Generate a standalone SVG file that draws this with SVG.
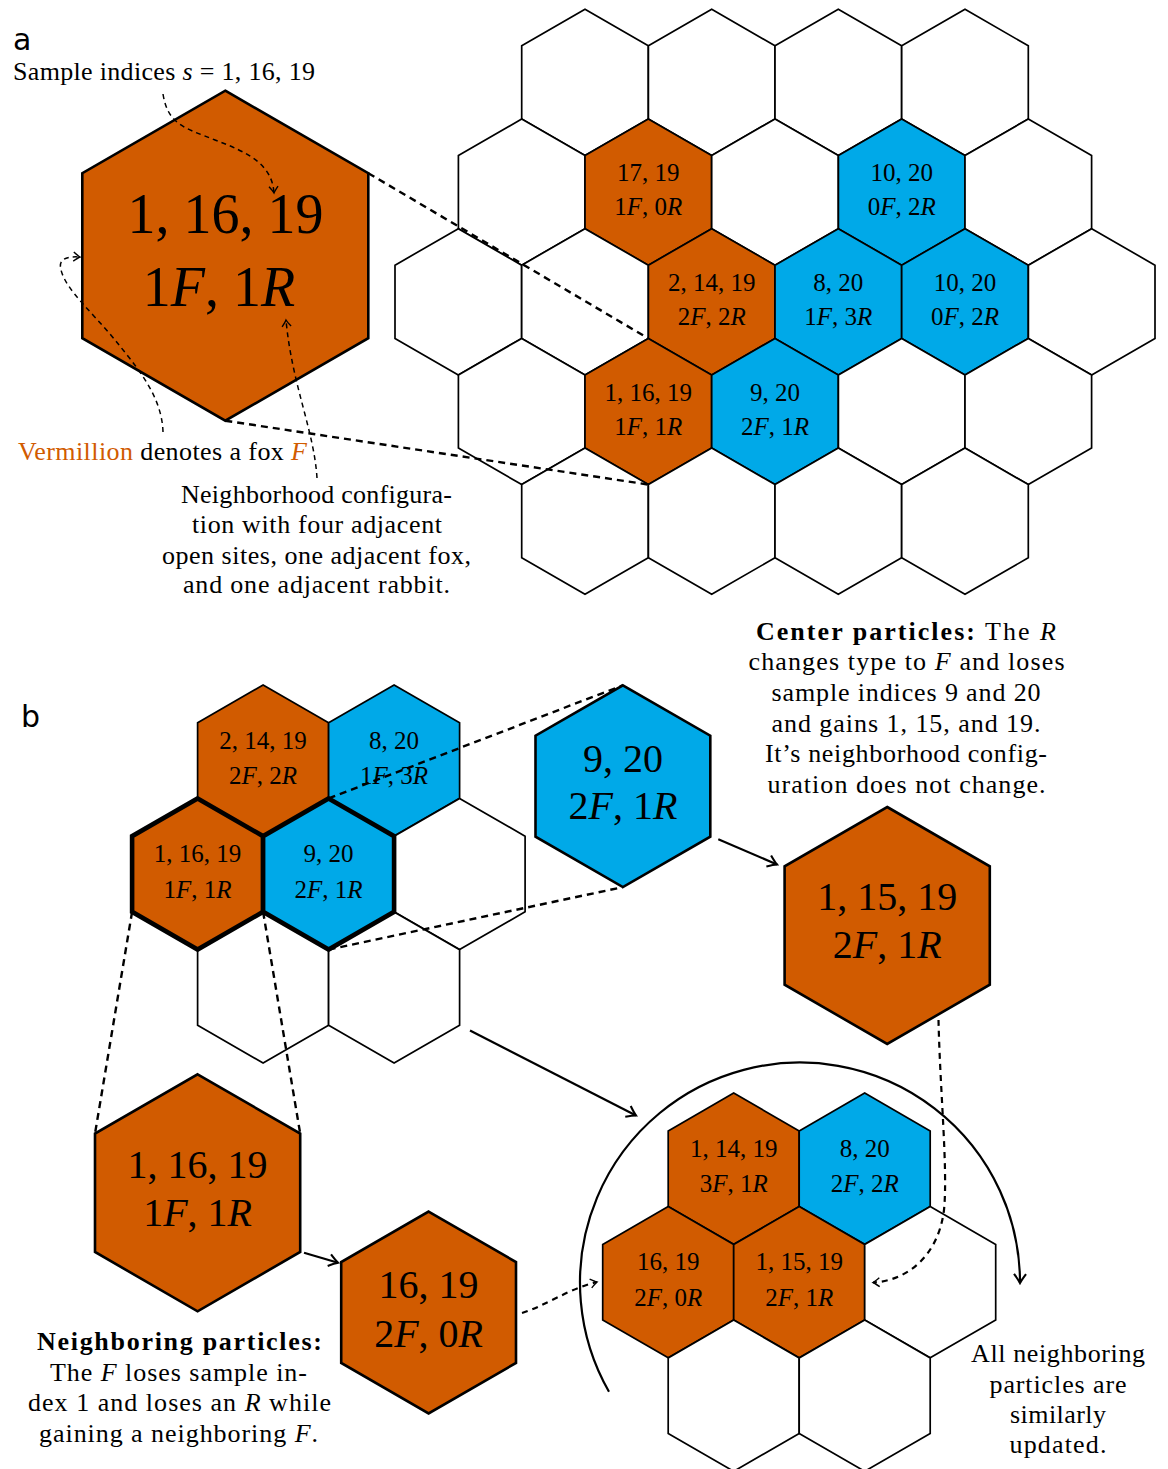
<svg xmlns="http://www.w3.org/2000/svg" width="1168" height="1469" viewBox="0 0 1168 1469">
<style>
.hs{stroke:#000;stroke-width:1.7;stroke-linejoin:miter}
.hb{stroke:#000;stroke-width:2.6;stroke-linejoin:miter}
.hk{stroke:#000;stroke-width:4.6;stroke-linejoin:miter}
.or{fill:#D15B00}
.bl{fill:#00A9E8}
.wh{fill:#fff}
.t{font-family:"Liberation Serif","Times New Roman",serif;fill:#000}
.lb{font-size:25px;text-anchor:middle}
.lg{font-size:40px;text-anchor:middle}
.lx{font-size:56px;text-anchor:middle}
.p{font-size:26px}
.pc{font-size:26px;text-anchor:middle}
.i{font-style:italic}
.vo{fill:#D15B00}
.sf{font-family:"DejaVu Sans",sans-serif;font-size:30px;fill:#000}
.zl{fill:none;stroke:#000;stroke-width:2.4;stroke-dasharray:7 5}
.ann{fill:none;stroke:#000;stroke-width:1.5;stroke-dasharray:5 4}
.dc{fill:none;stroke:#000;stroke-width:2.2;stroke-dasharray:6 5}
.sol{fill:none;stroke:#000;stroke-width:2.2}
</style>
<defs>
<marker id="ah" viewBox="-9 -6 11 12" refX="0" refY="0" markerWidth="11" markerHeight="12" markerUnits="userSpaceOnUse" orient="auto">
<path d="M-6.5,-4.5 Q-2,-1 0,0 Q-2,1 -6.5,4.5" fill="none" stroke="#000" stroke-width="1.4"/>
</marker>
<marker id="ahL" viewBox="-12 -8 14 16" refX="0" refY="0" markerWidth="14" markerHeight="16" markerUnits="userSpaceOnUse" orient="auto">
<path d="M-9,-6 Q-3,-1.5 0,0 Q-3,1.5 -9,6" fill="none" stroke="#000" stroke-width="2.1"/>
</marker>
</defs>
<rect width="1168" height="1469" fill="#fff"/>

<text class="sf" x="13" y="50">a</text>
<text class="sf" x="21" y="727">b</text>

<!-- Part a grid -->
<g id="a-grid">
<g id="a-r0c1"><polygon class="hs wh" transform="translate(585,82.4)" points="0,-73.1 63.3,-36.6 63.3,36.6 0,73.1 -63.3,36.6 -63.3,-36.6"/></g>
<g id="a-r0c2"><polygon class="hs wh" transform="translate(711.7,82.4)" points="0,-73.1 63.3,-36.6 63.3,36.6 0,73.1 -63.3,36.6 -63.3,-36.6"/></g>
<g id="a-r0c3"><polygon class="hs wh" transform="translate(838.3,82.4)" points="0,-73.1 63.3,-36.6 63.3,36.6 0,73.1 -63.3,36.6 -63.3,-36.6"/></g>
<g id="a-r0c4"><polygon class="hs wh" transform="translate(965,82.4)" points="0,-73.1 63.3,-36.6 63.3,36.6 0,73.1 -63.3,36.6 -63.3,-36.6"/></g>

<g id="a-r1c0"><polygon class="hs wh" transform="translate(521.7,192.1)" points="0,-73.1 63.3,-36.6 63.3,36.6 0,73.1 -63.3,36.6 -63.3,-36.6"/></g>
<g id="a-17-19"><polygon class="hs or" transform="translate(648.3,192.1)" points="0,-73.1 63.3,-36.6 63.3,36.6 0,73.1 -63.3,36.6 -63.3,-36.6"/>
<text class="t lb" x="648.3" y="181">17, 19</text><text class="t lb" x="648.3" y="215">1<tspan class="i">F</tspan>, 0<tspan class="i">R</tspan></text></g>
<g id="a-r1c2"><polygon class="hs wh" transform="translate(775,192.1)" points="0,-73.1 63.3,-36.6 63.3,36.6 0,73.1 -63.3,36.6 -63.3,-36.6"/></g>
<g id="a-10-20-top"><polygon class="hs bl" transform="translate(901.7,192.1)" points="0,-73.1 63.3,-36.6 63.3,36.6 0,73.1 -63.3,36.6 -63.3,-36.6"/>
<text class="t lb" x="901.7" y="181">10, 20</text><text class="t lb" x="901.7" y="215">0<tspan class="i">F</tspan>, 2<tspan class="i">R</tspan></text></g>
<g id="a-r1c4"><polygon class="hs wh" transform="translate(1028.3,192.1)" points="0,-73.1 63.3,-36.6 63.3,36.6 0,73.1 -63.3,36.6 -63.3,-36.6"/></g>

<g id="a-r2c0"><polygon class="hs wh" transform="translate(458.3,301.8)" points="0,-73.1 63.3,-36.6 63.3,36.6 0,73.1 -63.3,36.6 -63.3,-36.6"/></g>
<g id="a-r2c1"><polygon class="hs wh" transform="translate(585,301.8)" points="0,-73.1 63.3,-36.6 63.3,36.6 0,73.1 -63.3,36.6 -63.3,-36.6"/></g>
<g id="a-2-14-19"><polygon class="hs or" transform="translate(711.7,301.8)" points="0,-73.1 63.3,-36.6 63.3,36.6 0,73.1 -63.3,36.6 -63.3,-36.6"/>
<text class="t lb" x="711.7" y="290.8">2, 14, 19</text><text class="t lb" x="711.7" y="324.8">2<tspan class="i">F</tspan>, 2<tspan class="i">R</tspan></text></g>
<g id="a-8-20"><polygon class="hs bl" transform="translate(838.3,301.8)" points="0,-73.1 63.3,-36.6 63.3,36.6 0,73.1 -63.3,36.6 -63.3,-36.6"/>
<text class="t lb" x="838.3" y="290.8">8, 20</text><text class="t lb" x="838.3" y="324.8">1<tspan class="i">F</tspan>, 3<tspan class="i">R</tspan></text></g>
<g id="a-10-20-mid"><polygon class="hs bl" transform="translate(965,301.8)" points="0,-73.1 63.3,-36.6 63.3,36.6 0,73.1 -63.3,36.6 -63.3,-36.6"/>
<text class="t lb" x="965" y="290.8">10, 20</text><text class="t lb" x="965" y="324.8">0<tspan class="i">F</tspan>, 2<tspan class="i">R</tspan></text></g>
<g id="a-r2c5"><polygon class="hs wh" transform="translate(1091.7,301.8)" points="0,-73.1 63.3,-36.6 63.3,36.6 0,73.1 -63.3,36.6 -63.3,-36.6"/></g>

<g id="a-r3c0"><polygon class="hs wh" transform="translate(521.7,411.5)" points="0,-73.1 63.3,-36.6 63.3,36.6 0,73.1 -63.3,36.6 -63.3,-36.6"/></g>
<g id="a-1-16-19"><polygon class="hs or" transform="translate(648.3,411.5)" points="0,-73.1 63.3,-36.6 63.3,36.6 0,73.1 -63.3,36.6 -63.3,-36.6"/>
<text class="t lb" x="648.3" y="400.5">1, 16, 19</text><text class="t lb" x="648.3" y="434.5">1<tspan class="i">F</tspan>, 1<tspan class="i">R</tspan></text></g>
<g id="a-9-20"><polygon class="hs bl" transform="translate(775,411.5)" points="0,-73.1 63.3,-36.6 63.3,36.6 0,73.1 -63.3,36.6 -63.3,-36.6"/>
<text class="t lb" x="775" y="400.5">9, 20</text><text class="t lb" x="775" y="434.5">2<tspan class="i">F</tspan>, 1<tspan class="i">R</tspan></text></g>
<g id="a-r3c3"><polygon class="hs wh" transform="translate(901.7,411.5)" points="0,-73.1 63.3,-36.6 63.3,36.6 0,73.1 -63.3,36.6 -63.3,-36.6"/></g>
<g id="a-r3c4"><polygon class="hs wh" transform="translate(1028.3,411.5)" points="0,-73.1 63.3,-36.6 63.3,36.6 0,73.1 -63.3,36.6 -63.3,-36.6"/></g>

<g id="a-r4c1"><polygon class="hs wh" transform="translate(585,521.2)" points="0,-73.1 63.3,-36.6 63.3,36.6 0,73.1 -63.3,36.6 -63.3,-36.6"/></g>
<g id="a-r4c2"><polygon class="hs wh" transform="translate(711.7,521.2)" points="0,-73.1 63.3,-36.6 63.3,36.6 0,73.1 -63.3,36.6 -63.3,-36.6"/></g>
<g id="a-r4c3"><polygon class="hs wh" transform="translate(838.3,521.2)" points="0,-73.1 63.3,-36.6 63.3,36.6 0,73.1 -63.3,36.6 -63.3,-36.6"/></g>
<g id="a-r4c4"><polygon class="hs wh" transform="translate(965,521.2)" points="0,-73.1 63.3,-36.6 63.3,36.6 0,73.1 -63.3,36.6 -63.3,-36.6"/></g>
</g>

<g id="a-big"><polygon class="hb or" transform="translate(225.3,255.7)" points="0,-165 143,-82.5 143,82.5 0,165 -143,82.5 -143,-82.5"/>
<text class="t lx" x="225.5" y="233">1, 16, 19</text><text class="t lx" x="219" y="306">1<tspan class="i">F</tspan>, 1<tspan class="i">R</tspan></text></g>

<g id="a-texts">
<text class="t p" x="13" y="80" textLength="302" lengthAdjust="spacing">Sample indices <tspan class="i">s</tspan> = 1, 16, 19</text>
<text class="t p" x="18" y="460" textLength="289" lengthAdjust="spacing"><tspan class="vo">Vermillion</tspan> denotes a fox <tspan class="vo i">F</tspan></text>
<text class="t pc" x="316.5" y="503" textLength="271" lengthAdjust="spacing">Neighborhood configura-</text>
<text class="t pc" x="317" y="533" textLength="250" lengthAdjust="spacing">tion with four adjacent</text>
<text class="t pc" x="316.5" y="563.5" textLength="309" lengthAdjust="spacing">open sites, one adjacent fox,</text>
<text class="t pc" x="316.5" y="593" textLength="267" lengthAdjust="spacing">and one adjacent rabbit.</text>
</g>

<!-- Part b grid -->
<g id="b-grid">
<g id="b-2-14-19"><polygon class="hs or" transform="translate(263.1,760.5)" points="0,-75.6 65.5,-37.8 65.5,37.8 0,75.6 -65.5,37.8 -65.5,-37.8"/>
<text class="t lb" x="263.1" y="748.5">2, 14, 19</text><text class="t lb" x="263.1" y="784">2<tspan class="i">F</tspan>, 2<tspan class="i">R</tspan></text></g>
<g id="b-8-20"><polygon class="hs bl" transform="translate(394.1,760.5)" points="0,-75.6 65.5,-37.8 65.5,37.8 0,75.6 -65.5,37.8 -65.5,-37.8"/>
<text class="t lb" x="394.1" y="748.5">8, 20</text><text class="t lb" x="394.1" y="784">1<tspan class="i">F</tspan>, 3<tspan class="i">R</tspan></text></g>
<g id="b-r1c2"><polygon class="hs wh" transform="translate(459.6,874)" points="0,-75.6 65.5,-37.8 65.5,37.8 0,75.6 -65.5,37.8 -65.5,-37.8"/></g>
<g id="b-r2c0"><polygon class="hs wh" transform="translate(263.1,987.5)" points="0,-75.6 65.5,-37.8 65.5,37.8 0,75.6 -65.5,37.8 -65.5,-37.8"/></g>
<g id="b-r2c1"><polygon class="hs wh" transform="translate(394.1,987.5)" points="0,-75.6 65.5,-37.8 65.5,37.8 0,75.6 -65.5,37.8 -65.5,-37.8"/></g>
<g id="b-1-16-19"><polygon class="hk or" transform="translate(197.6,874)" points="0,-75.6 65.5,-37.8 65.5,37.8 0,75.6 -65.5,37.8 -65.5,-37.8"/>
<text class="t lb" x="197.6" y="862">1, 16, 19</text><text class="t lb" x="197.6" y="897.5">1<tspan class="i">F</tspan>, 1<tspan class="i">R</tspan></text></g>
<g id="b-9-20"><polygon class="hk bl" transform="translate(328.6,874)" points="0,-75.6 65.5,-37.8 65.5,37.8 0,75.6 -65.5,37.8 -65.5,-37.8"/>
<text class="t lb" x="328.6" y="862">9, 20</text><text class="t lb" x="328.6" y="897.5">2<tspan class="i">F</tspan>, 1<tspan class="i">R</tspan></text></g>
</g>

<g id="b-big-9-20"><polygon class="hb bl" transform="translate(622.9,786.2)" points="0,-100.9 87.4,-50.5 87.4,50.5 0,100.9 -87.4,50.5 -87.4,-50.5"/>
<text class="t lg" x="622.9" y="771.7">9, 20</text><text class="t lg" x="622.9" y="819">2<tspan class="i">F</tspan>, 1<tspan class="i">R</tspan></text></g>

<g id="b-big-1-15-19"><polygon class="hb or" transform="translate(887.2,925.5)" points="0,-118.5 102.6,-59.2 102.6,59.2 0,118.5 -102.6,59.2 -102.6,-59.2"/>
<text class="t lg" x="887.2" y="910">1, 15, 19</text><text class="t lg" x="887.2" y="958.3">2<tspan class="i">F</tspan>, 1<tspan class="i">R</tspan></text></g>

<g id="b-big-1-16-19"><polygon class="hb or" transform="translate(197.6,1192.8)" points="0,-118.5 102.6,-59.2 102.6,59.2 0,118.5 -102.6,59.2 -102.6,-59.2"/>
<text class="t lg" x="197.6" y="1178.3">1, 16, 19</text><text class="t lg" x="197.6" y="1225.7">1<tspan class="i">F</tspan>, 1<tspan class="i">R</tspan></text></g>

<g id="b-big-16-19"><polygon class="hb or" transform="translate(428.6,1312.5)" points="0,-100.9 87.4,-50.5 87.4,50.5 0,100.9 -87.4,50.5 -87.4,-50.5"/>
<text class="t lg" x="428.6" y="1298.3">16, 19</text><text class="t lg" x="428.6" y="1346.7">2<tspan class="i">F</tspan>, 0<tspan class="i">R</tspan></text></g>

<!-- right grid -->
<g id="c-grid">
<g id="c-1-14-19"><polygon class="hs or" transform="translate(733.7,1168.7)" points="0,-75.6 65.5,-37.8 65.5,37.8 0,75.6 -65.5,37.8 -65.5,-37.8"/>
<text class="t lb" x="733.7" y="1156.7">1, 14, 19</text><text class="t lb" x="733.7" y="1192">3<tspan class="i">F</tspan>, 1<tspan class="i">R</tspan></text></g>
<g id="c-8-20"><polygon class="hs bl" transform="translate(864.7,1168.7)" points="0,-75.6 65.5,-37.8 65.5,37.8 0,75.6 -65.5,37.8 -65.5,-37.8"/>
<text class="t lb" x="864.7" y="1156.7">8, 20</text><text class="t lb" x="864.7" y="1192">2<tspan class="i">F</tspan>, 2<tspan class="i">R</tspan></text></g>
<g id="c-16-19"><polygon class="hs or" transform="translate(668.2,1282.2)" points="0,-75.6 65.5,-37.8 65.5,37.8 0,75.6 -65.5,37.8 -65.5,-37.8"/>
<text class="t lb" x="668.2" y="1270.2">16, 19</text><text class="t lb" x="668.2" y="1305.5">2<tspan class="i">F</tspan>, 0<tspan class="i">R</tspan></text></g>
<g id="c-1-15-19"><polygon class="hs or" transform="translate(799.2,1282.2)" points="0,-75.6 65.5,-37.8 65.5,37.8 0,75.6 -65.5,37.8 -65.5,-37.8"/>
<text class="t lb" x="799.2" y="1270.2">1, 15, 19</text><text class="t lb" x="799.2" y="1305.5">2<tspan class="i">F</tspan>, 1<tspan class="i">R</tspan></text></g>
<g id="c-r1c2"><polygon class="hs wh" transform="translate(930.2,1282.2)" points="0,-75.6 65.5,-37.8 65.5,37.8 0,75.6 -65.5,37.8 -65.5,-37.8"/></g>
<g id="c-r2c0"><polygon class="hs wh" transform="translate(733.7,1395.7)" points="0,-75.6 65.5,-37.8 65.5,37.8 0,75.6 -65.5,37.8 -65.5,-37.8"/></g>
<g id="c-r2c1"><polygon class="hs wh" transform="translate(864.7,1395.7)" points="0,-75.6 65.5,-37.8 65.5,37.8 0,75.6 -65.5,37.8 -65.5,-37.8"/></g>
</g>

<g id="b-texts">
<text class="t pc" x="906" y="639.5" textLength="300" lengthAdjust="spacing"><tspan font-weight="bold">Center particles:</tspan> The <tspan class="i">R</tspan></text>
<text class="t pc" x="906.5" y="670.2" textLength="316" lengthAdjust="spacing">changes type to <tspan class="i">F</tspan> and loses</text>
<text class="t pc" x="906" y="700.9" textLength="269" lengthAdjust="spacing">sample indices 9 and 20</text>
<text class="t pc" x="906" y="731.6" textLength="269" lengthAdjust="spacing">and gains 1, 15, and 19.</text>
<text class="t pc" x="906" y="762.3" textLength="282" lengthAdjust="spacing">It’s neighborhood config-</text>
<text class="t pc" x="906.5" y="793" textLength="278" lengthAdjust="spacing">uration does not change.</text>

<text class="t pc" x="179.5" y="1350" textLength="285" lengthAdjust="spacing" font-weight="bold">Neighboring particles:</text>
<text class="t pc" x="178.5" y="1380.5" textLength="257" lengthAdjust="spacing">The <tspan class="i">F</tspan> loses sample in-</text>
<text class="t pc" x="179.5" y="1411" textLength="303" lengthAdjust="spacing">dex 1 and loses an <tspan class="i">R</tspan> while</text>
<text class="t pc" x="178.5" y="1441.5" textLength="279" lengthAdjust="spacing">gaining a neighboring <tspan class="i">F</tspan>.</text>

<text class="t pc" x="1058" y="1362" textLength="174" lengthAdjust="spacing">All neighboring</text>
<text class="t pc" x="1058" y="1392.5" textLength="137" lengthAdjust="spacing">particles are</text>
<text class="t pc" x="1058" y="1423" textLength="96" lengthAdjust="spacing">similarly</text>
<text class="t pc" x="1058" y="1453" textLength="97" lengthAdjust="spacing">updated.</text>
</g>

<g id="connectors">
<line class="zl" x1="368.3" y1="173.2" x2="648.3" y2="338.4"/>
<line class="zl" x1="225.3" y1="420.7" x2="648.3" y2="484.6"/>
<path class="ann" d="M163,94 C168,125 185,128 215,140 C250,153 272,165 274,193" marker-end="url(#ah)"/>
<path class="ann" d="M163,432 C162,395 135,365 115,340 C92,312 66,290 61,270 C58,260 65,256 80,257" marker-end="url(#ah)"/>
<path class="ann" d="M317,478 C314,430 292,385 286,320" marker-end="url(#ah)"/>

<line class="zl" x1="328.6" y1="798.4" x2="622.9" y2="685.3"/>
<line class="zl" x1="328.6" y1="949.6" x2="622.9" y2="887.1"/>
<line class="zl" x1="132.1" y1="911.8" x2="95" y2="1133.6"/>
<line class="zl" x1="263.1" y1="911.8" x2="300.2" y2="1133.6"/>

<line class="sol" x1="718.3" y1="839.3" x2="777" y2="864.5" marker-end="url(#ahL)"/>
<line class="sol" x1="304" y1="1252.7" x2="338" y2="1262.7" marker-end="url(#ahL)"/>
<line class="sol" x1="470" y1="1030.5" x2="636" y2="1115.5" marker-end="url(#ahL)"/>
<path class="sol" d="M609,1391.7 A220,220 0 1 1 1020,1283" marker-end="url(#ahL)"/>

<path class="dc" d="M522,1313 C545,1306 568,1289 597,1282" marker-end="url(#ah)"/>
<path class="dc" d="M938.5,1020 C940,1090 948,1170 944,1210 C938,1258 905,1281 873,1282.5" marker-end="url(#ah)"/>
</g>
</svg>
